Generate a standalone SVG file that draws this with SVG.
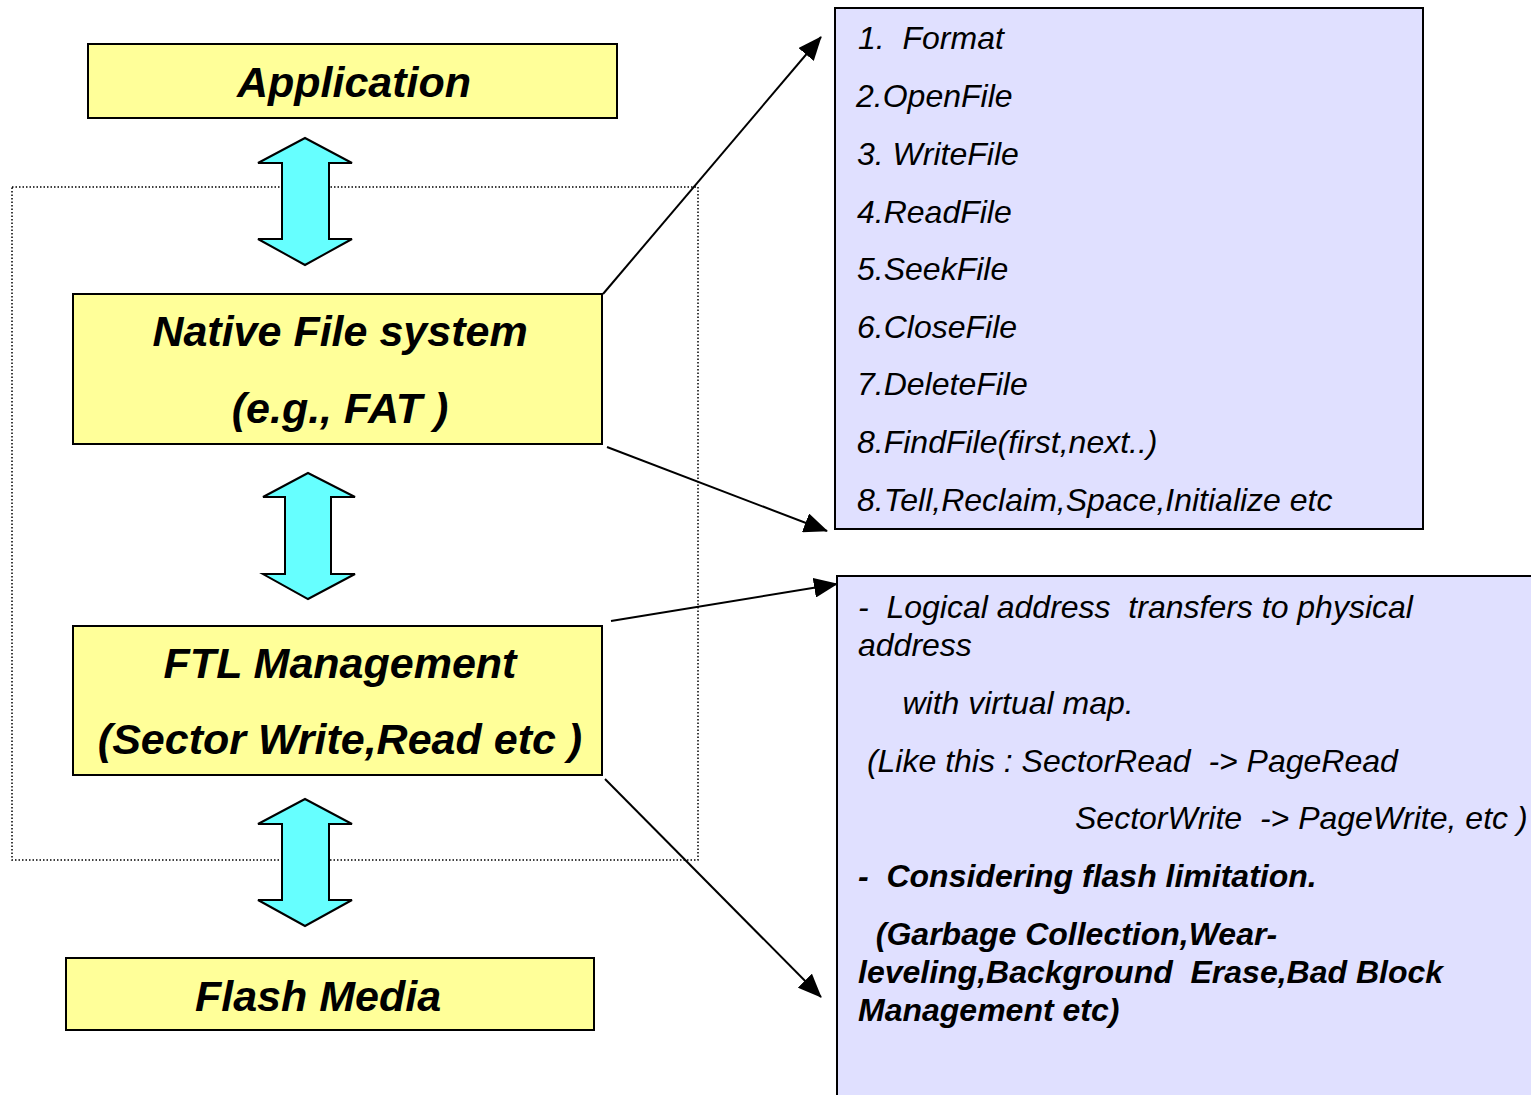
<svg xmlns="http://www.w3.org/2000/svg" width="1531" height="1095" viewBox="0 0 1531 1095">
  <defs>
    <style>
      .layer { fill: #FFFF99; stroke: #000; stroke-width: 2; }
      .panel { fill: #E0E0FF; stroke: #000; stroke-width: 2; }
      .dbl { fill: #66FFFF; stroke: #000; stroke-width: 2; stroke-linejoin: miter; }
      .title { font-family: "Liberation Sans", Arial, sans-serif; font-size: 43px; font-weight: bold; font-style: italic; fill: #000; text-anchor: middle; white-space: pre; }
      .item { font-family: "Liberation Sans", Arial, sans-serif; font-size: 32px; font-style: italic; fill: #000; white-space: pre; }
      .item-b { font-family: "Liberation Sans", Arial, sans-serif; font-size: 32px; font-style: italic; font-weight: bold; fill: #000; white-space: pre; }
      .conn { fill: none; stroke: #000; stroke-width: 2; }
    </style>
    <marker id="head" markerUnits="userSpaceOnUse" markerWidth="24" markerHeight="20" viewBox="0 0 24 20" refX="23" refY="10" orient="auto">
      <path d="M0,0 L24,10 L0,20 z" fill="#000"/>
    </marker>
  </defs>

  <!-- dotted grouping frame around the file system and FTL layers -->
  <rect x="12" y="187" width="686" height="673" fill="none" stroke="#000" stroke-width="1.5" stroke-dasharray="1.5 2"/>

  <!-- bidirectional arrows between layers -->
  <g id="arrow-app-fs">
    <path class="dbl" d="M305,138 L352,163 L329,163 L329,239 L352,239 L305,265 L258,239 L282,239 L282,163 L258,163 Z"/>
  </g>
  <g id="arrow-fs-ftl">
    <path class="dbl" d="M308,473 L355,497 L331,497 L331,574 L355,574 L308,599 L263,574 L285,574 L285,497 L263,497 Z"/>
  </g>
  <g id="arrow-ftl-flash">
    <path class="dbl" d="M305,799 L352,824 L329,824 L329,900 L352,900 L305,926 L258,900 L282,900 L282,824 L258,824 Z"/>
  </g>

  <!-- layer boxes -->
  <g id="application">
    <rect class="layer" x="88" y="44" width="529" height="74"/>
    <text class="title" x="354" y="97">Application</text>
  </g>
  <g id="native-fs">
    <rect class="layer" x="73" y="294" width="529" height="150"/>
    <text class="title" x="340" y="346">Native File system</text>
    <text class="title" x="340" y="423">(e.g., FAT )</text>
  </g>
  <g id="ftl">
    <rect class="layer" x="73" y="626" width="529" height="149"/>
    <text class="title" x="340" y="678">FTL Management</text>
    <text class="title" x="340" y="754">(Sector Write,Read etc )</text>
  </g>
  <g id="flash-media">
    <rect class="layer" x="66" y="958" width="528" height="72"/>
    <text class="title" x="318" y="1011">Flash Media</text>
  </g>

  <!-- file system API list -->
  <g id="fs-api">
    <rect class="panel" x="835" y="8" width="588" height="521"/>
    <text class="item" x="858" y="49">1.  Format</text>
    <text class="item" x="856" y="107">2.OpenFile</text>
    <text class="item" x="857" y="165">3. WriteFile</text>
    <text class="item" x="857" y="223">4.ReadFile</text>
    <text class="item" x="857" y="280">5.SeekFile</text>
    <text class="item" x="857" y="338">6.CloseFile</text>
    <text class="item" x="857" y="395">7.DeleteFile</text>
    <text class="item" x="857" y="453">8.FindFile(first,next..)</text>
    <text class="item" x="857" y="511">8.Tell,Reclaim,Space,Initialize etc</text>
  </g>

  <!-- FTL responsibilities -->
  <g id="ftl-notes">
    <rect class="panel" x="837" y="576" width="704" height="530"/>
    <text class="item" x="858" y="618">-  Logical address  transfers to physical</text>
    <text class="item" x="858" y="656">address</text>
    <text class="item" x="858" y="714">     with virtual map.</text>
    <text class="item" x="858" y="772"> (Like this : SectorRead  -&gt; PageRead</text>
    <text class="item" x="1075" y="829">SectorWrite  -&gt; PageWrite, etc )</text>
    <text class="item-b" x="858" y="887">-  Considering flash limitation.</text>
    <text class="item-b" x="858" y="945">  (Garbage Collection,Wear-</text>
    <text class="item-b" x="858" y="983">leveling,Background  Erase,Bad Block</text>
    <text class="item-b" x="858" y="1021">Management etc)</text>
  </g>

  <!-- connectors from layers to their detail panels -->
  <g id="connectors">
    <line class="conn" x1="603" y1="294" x2="821" y2="37" marker-end="url(#head)"/>
    <line class="conn" x1="607" y1="447" x2="827" y2="531" marker-end="url(#head)"/>
    <line class="conn" x1="611" y1="621" x2="837" y2="584" marker-end="url(#head)"/>
    <line class="conn" x1="605" y1="779" x2="821" y2="997" marker-end="url(#head)"/>
  </g>
</svg>
